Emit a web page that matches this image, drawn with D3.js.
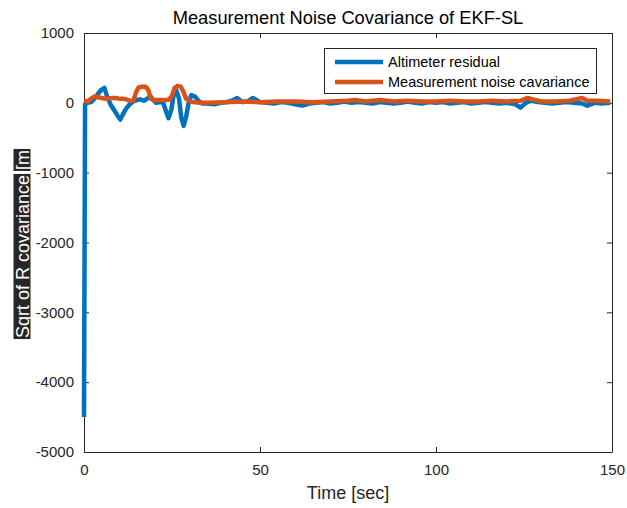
<!DOCTYPE html>
<html><head><meta charset="utf-8">
<script src="https://cdn.jsdelivr.net/npm/d3@7"></script>
<style>body{margin:0;background:#fff}svg{display:block}text{font-family:"Liberation Sans",Arial,sans-serif}</style>
</head><body>
<svg id="c" width="627" height="508"></svg>
<script>
const xTicks = [0, 50, 100, 150];
const yTicks = [1000, 0, -1000, -2000, -3000, -4000, -5000];
const seriesNames = ["Altimeter residual", "Measurement noise cavariance"];

const residualT = [0,0.3,1,2,3,4,5,5.8,6.5,7.5,8.5,9.5,10.3,11,12,13,14,15,16,17,18,18.8,19.5,20.5,21.5,22.5,23.3,24,24.8,25.5,26.2,27,27.6,28.3,29,29.8,30.5,31.5,32.5,33.5,35,37,39,40.5,42,43.5,45,46.5,48,50,52,54,56,58,60,62,64,66,68,70,72,74,76,78,80,82,84,86,88,90,92,94,96,98,100,102,104,106,108,110,112,114,116,118,120,122.5,124,125.5,127,129,131,133,135,137,139,141.5,143,145,147,149.5];
const residualV = [-4500,-20,0,10,60,130,190,215,100,-20,-100,-180,-240,-170,-80,-20,20,40,50,30,60,100,50,0,10,0,-120,-220,-100,120,180,60,-200,-330,-200,20,110,90,30,-10,-10,-20,0,10,30,70,10,20,70,10,0,-10,10,0,-20,-40,-10,0,10,-10,0,20,0,10,0,-10,10,0,-10,0,20,0,-10,10,0,10,-10,0,10,-10,0,10,0,-10,0,-20,-70,0,30,10,0,-10,0,10,0,-10,-40,0,-10,0,0];

const noiseT = [0,1,2,3,4,5,6,7,8,9,10,11,12,13,14,14.8,15.5,16.5,17.5,18.3,19,20,21,22,23,24,25,25.7,26.5,27.5,28.3,29,30,31,33,35,40,45,50,55,60,65,70,75,77,80,84,88,92,96,100,104,108,112,116,120,124,126,127.5,130,134,138,141.5,143,146,149.5];
const noiseV = [30,20,60,90,80,70,60,60,70,70,60,60,50,30,30,150,220,230,230,180,60,40,40,40,40,40,100,210,240,230,150,60,30,10,0,0,10,20,10,20,20,10,20,30,40,20,40,20,30,20,20,30,20,20,30,20,30,70,50,20,20,30,70,30,30,20];

const svg = d3.select("#c");
const L = 84, R = 612, T = 33, B = 452;
const x = d3.scaleLinear().domain([0, 150]).range([L, R]);
const y = d3.scaleLinear().domain([-5000, 1000]).range([B, T]);
const axisColor = "#262626";

svg.append("defs").append("clipPath").attr("id","pc").append("rect")
  .attr("x", L-4).attr("y", T).attr("width", R-L+4).attr("height", B-T);

// axes first (lines are drawn over them)
const fmt = d => String(d);
const ax = svg.append("g").attr("transform",`translate(0,${B})`)
  .call(d3.axisBottom(x).tickValues(xTicks).tickFormat(fmt).tickSizeInner(-5).tickSizeOuter(0).tickPadding(12));
const axT = svg.append("g").attr("transform",`translate(0,${T})`)
  .call(d3.axisTop(x).tickValues(xTicks).tickSizeInner(-5).tickSizeOuter(0).tickFormat(""));
const ay = svg.append("g").attr("transform",`translate(${L},0)`)
  .call(d3.axisLeft(y).tickValues(yTicks).tickFormat(fmt).tickSizeInner(-5).tickSizeOuter(0).tickPadding(10));
const ayR = svg.append("g").attr("transform",`translate(${R},0)`)
  .call(d3.axisRight(y).tickValues(yTicks).tickSizeInner(-5).tickSizeOuter(0).tickFormat(""));
[ax,axT,ay,ayR].forEach(g=>{
  g.select(".domain").attr("stroke",axisColor).attr("stroke-width",1);
  g.selectAll(".tick line").attr("stroke",axisColor);
  g.selectAll(".tick text").attr("fill",axisColor).style("font-size","15px")
   .style("font-family",'"Liberation Sans",Arial,sans-serif');
});

const line = d3.line().x(d => x(d[0])).y(d => y(d[1]));
const gp = svg.append("g").attr("clip-path","url(#pc)");
gp.append("path").datum(residualT.map((t,i)=>[t,residualV[i]]))
  .attr("d", line).attr("fill","none").attr("stroke","#0072BD")
  .attr("stroke-width",4.5).attr("stroke-linejoin","round").attr("stroke-linecap","butt");
gp.append("path").datum(noiseT.map((t,i)=>[t,noiseV[i]]))
  .attr("d", line).attr("fill","none").attr("stroke","#D95319")
  .attr("stroke-width",4.5).attr("stroke-linejoin","round").attr("stroke-linecap","butt");

svg.append("text").attr("x",(L+R)/2).attr("y",24).attr("text-anchor","middle")
  .style("font-size","18.3px").attr("fill","#000").text("Measurement Noise Covariance of EKF-SL");
svg.append("text").attr("x",(L+R)/2).attr("y",499).attr("text-anchor","middle")
  .style("font-size","18px").attr("fill",axisColor).text("Time [sec]");

const yl = svg.append("g").attr("transform","translate(22,244) rotate(-90)");
const parts = ["Sqrt of R covariance", "[m"];
const fs = 18;
const tmp = yl.append("text").style("font-size",fs+"px").text(parts.join(" "));
const total = tmp.node().getComputedTextLength();
tmp.remove();
let cur = -total/2;
const spaceW = (()=>{const t=yl.append("text").style("font-size",fs+"px").text("a a");const a=t.node().getComputedTextLength();t.text("aa");const b=t.node().getComputedTextLength();t.remove();return a-b;})();
parts.forEach((p,i)=>{
  const t = yl.append("text").style("font-size",fs+"px").attr("fill","#fff").attr("y",6.5).text(p);
  const w = t.node().getComputedTextLength();
  yl.insert("rect","text").attr("x",cur-1).attr("y",-8.5).attr("width",w+2).attr("height",17).attr("fill","#262626");
  t.attr("x",cur);
  cur += w + spaceW;
});

const lg = svg.append("g");
lg.append("rect").attr("x",324.5).attr("y",48.5).attr("width",272).attr("height",45)
  .attr("fill","#fff").attr("stroke",axisColor).attr("stroke-width",1);
const lc = ["#0072BD","#D95319"];
seriesNames.forEach((n,i)=>{
  const yy = 62 + i*20;
  lg.append("line").attr("x1",335).attr("x2",383).attr("y1",yy).attr("y2",yy)
    .attr("stroke",lc[i]).attr("stroke-width",4.5);
  lg.append("text").attr("x",388).attr("y",yy+5).style("font-size","14.5px").attr("fill","#000").text(n);
});
</script>
</body></html>
